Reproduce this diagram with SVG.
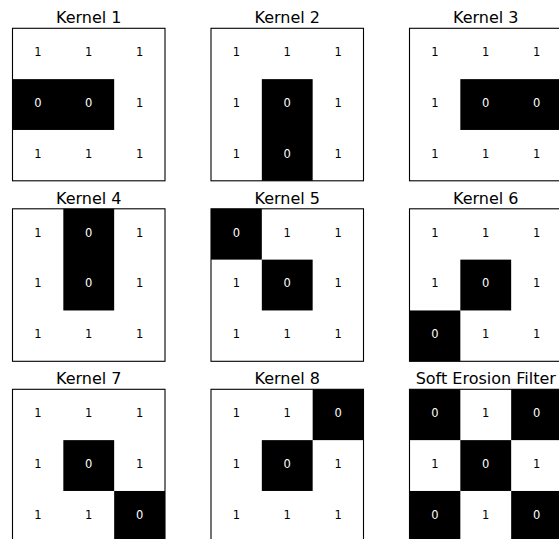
<svg xmlns="http://www.w3.org/2000/svg" width="559" height="539" viewBox="0 0 559 539">
<style>
.z{fill:#000}
.frame{fill:none;stroke:#000;stroke-width:1.1}
.t{font-family:"DejaVu Sans",sans-serif;font-size:16px;fill:#000;text-anchor:middle}
.n{font-family:"DejaVu Sans",sans-serif;font-size:11.5px;text-anchor:middle}
.w{fill:#fff}
.b{fill:#000}
</style>
<rect width="559" height="539" fill="#fff"/>

<!-- Kernel 1 -->
<g id="kernel1" transform="translate(12.5,28.3)">
<text class="t" x="76.25" y="-5">Kernel 1</text>
<rect class="z" x="0" y="50.83" width="101.67" height="50.83"/>
<text class="n b" x="25.4" y="27.8">1</text><text class="n b" x="76.25" y="27.8">1</text><text class="n b" x="127.1" y="27.8">1</text>
<text class="n w" x="25.4" y="78.6">0</text><text class="n w" x="76.25" y="78.6">0</text><text class="n b" x="127.1" y="78.6">1</text>
<text class="n b" x="25.4" y="129.4">1</text><text class="n b" x="76.25" y="129.4">1</text><text class="n b" x="127.1" y="129.4">1</text>
<rect class="frame" x="0" y="0" width="152.5" height="152.5"/>
</g>

<!-- Kernel 2 -->
<g id="kernel2" transform="translate(211,28.3)">
<text class="t" x="76.25" y="-5">Kernel 2</text>
<rect class="z" x="50.83" y="50.83" width="50.83" height="101.67"/>
<text class="n b" x="25.4" y="27.8">1</text><text class="n b" x="76.25" y="27.8">1</text><text class="n b" x="127.1" y="27.8">1</text>
<text class="n b" x="25.4" y="78.6">1</text><text class="n w" x="76.25" y="78.6">0</text><text class="n b" x="127.1" y="78.6">1</text>
<text class="n b" x="25.4" y="129.4">1</text><text class="n w" x="76.25" y="129.4">0</text><text class="n b" x="127.1" y="129.4">1</text>
<rect class="frame" x="0" y="0" width="152.5" height="152.5"/>
</g>

<!-- Kernel 3 -->
<g id="kernel3" transform="translate(409.5,28.3)">
<text class="t" x="76.25" y="-5">Kernel 3</text>
<rect class="z" x="50.83" y="50.83" width="101.67" height="50.83"/>
<text class="n b" x="25.4" y="27.8">1</text><text class="n b" x="76.25" y="27.8">1</text><text class="n b" x="127.1" y="27.8">1</text>
<text class="n b" x="25.4" y="78.6">1</text><text class="n w" x="76.25" y="78.6">0</text><text class="n w" x="127.1" y="78.6">0</text>
<text class="n b" x="25.4" y="129.4">1</text><text class="n b" x="76.25" y="129.4">1</text><text class="n b" x="127.1" y="129.4">1</text>
<rect class="frame" x="0" y="0" width="152.5" height="152.5"/>
</g>

<!-- Kernel 4 -->
<g id="kernel4" transform="translate(12.5,208.8)">
<text class="t" x="76.25" y="-5">Kernel 4</text>
<rect class="z" x="50.83" y="0" width="50.83" height="101.67"/>
<text class="n b" x="25.4" y="27.8">1</text><text class="n w" x="76.25" y="27.8">0</text><text class="n b" x="127.1" y="27.8">1</text>
<text class="n b" x="25.4" y="78.6">1</text><text class="n w" x="76.25" y="78.6">0</text><text class="n b" x="127.1" y="78.6">1</text>
<text class="n b" x="25.4" y="129.4">1</text><text class="n b" x="76.25" y="129.4">1</text><text class="n b" x="127.1" y="129.4">1</text>
<rect class="frame" x="0" y="0" width="152.5" height="152.5"/>
</g>

<!-- Kernel 5 -->
<g id="kernel5" transform="translate(211,208.8)">
<text class="t" x="76.25" y="-5">Kernel 5</text>
<rect class="z" x="0" y="0" width="50.83" height="50.83"/>
<rect class="z" x="50.83" y="50.83" width="50.83" height="50.83"/>
<text class="n w" x="25.4" y="27.8">0</text><text class="n b" x="76.25" y="27.8">1</text><text class="n b" x="127.1" y="27.8">1</text>
<text class="n b" x="25.4" y="78.6">1</text><text class="n w" x="76.25" y="78.6">0</text><text class="n b" x="127.1" y="78.6">1</text>
<text class="n b" x="25.4" y="129.4">1</text><text class="n b" x="76.25" y="129.4">1</text><text class="n b" x="127.1" y="129.4">1</text>
<rect class="frame" x="0" y="0" width="152.5" height="152.5"/>
</g>

<!-- Kernel 6 -->
<g id="kernel6" transform="translate(409.5,208.8)">
<text class="t" x="76.25" y="-5">Kernel 6</text>
<rect class="z" x="50.83" y="50.83" width="50.83" height="50.83"/>
<rect class="z" x="0" y="101.67" width="50.83" height="50.83"/>
<text class="n b" x="25.4" y="27.8">1</text><text class="n b" x="76.25" y="27.8">1</text><text class="n b" x="127.1" y="27.8">1</text>
<text class="n b" x="25.4" y="78.6">1</text><text class="n w" x="76.25" y="78.6">0</text><text class="n b" x="127.1" y="78.6">1</text>
<text class="n w" x="25.4" y="129.4">0</text><text class="n b" x="76.25" y="129.4">1</text><text class="n b" x="127.1" y="129.4">1</text>
<rect class="frame" x="0" y="0" width="152.5" height="152.5"/>
</g>

<!-- Kernel 7 -->
<g id="kernel7" transform="translate(12.5,389.3)">
<text class="t" x="76.25" y="-5">Kernel 7</text>
<rect class="z" x="50.83" y="50.83" width="50.83" height="50.83"/>
<rect class="z" x="101.67" y="101.67" width="50.83" height="50.83"/>
<text class="n b" x="25.4" y="27.8">1</text><text class="n b" x="76.25" y="27.8">1</text><text class="n b" x="127.1" y="27.8">1</text>
<text class="n b" x="25.4" y="78.6">1</text><text class="n w" x="76.25" y="78.6">0</text><text class="n b" x="127.1" y="78.6">1</text>
<text class="n b" x="25.4" y="129.4">1</text><text class="n b" x="76.25" y="129.4">1</text><text class="n w" x="127.1" y="129.4">0</text>
<rect class="frame" x="0" y="0" width="152.5" height="152.5"/>
</g>

<!-- Kernel 8 -->
<g id="kernel8" transform="translate(211,389.3)">
<text class="t" x="76.25" y="-5">Kernel 8</text>
<rect class="z" x="101.67" y="0" width="50.83" height="50.83"/>
<rect class="z" x="50.83" y="50.83" width="50.83" height="50.83"/>
<text class="n b" x="25.4" y="27.8">1</text><text class="n b" x="76.25" y="27.8">1</text><text class="n w" x="127.1" y="27.8">0</text>
<text class="n b" x="25.4" y="78.6">1</text><text class="n w" x="76.25" y="78.6">0</text><text class="n b" x="127.1" y="78.6">1</text>
<text class="n b" x="25.4" y="129.4">1</text><text class="n b" x="76.25" y="129.4">1</text><text class="n b" x="127.1" y="129.4">1</text>
<rect class="frame" x="0" y="0" width="152.5" height="152.5"/>
</g>

<!-- Soft Erosion Filter -->
<g id="soft-erosion-filter" transform="translate(409.5,389.3)">
<text class="t" x="76.25" y="-5">Soft Erosion Filter</text>
<rect class="z" x="0" y="0" width="50.83" height="50.83"/>
<rect class="z" x="101.67" y="0" width="50.83" height="50.83"/>
<rect class="z" x="50.83" y="50.83" width="50.83" height="50.83"/>
<rect class="z" x="0" y="101.67" width="50.83" height="50.83"/>
<rect class="z" x="101.67" y="101.67" width="50.83" height="50.83"/>
<text class="n w" x="25.4" y="27.8">0</text><text class="n b" x="76.25" y="27.8">1</text><text class="n w" x="127.1" y="27.8">0</text>
<text class="n b" x="25.4" y="78.6">1</text><text class="n w" x="76.25" y="78.6">0</text><text class="n b" x="127.1" y="78.6">1</text>
<text class="n w" x="25.4" y="129.4">0</text><text class="n b" x="76.25" y="129.4">1</text><text class="n w" x="127.1" y="129.4">0</text>
<rect class="frame" x="0" y="0" width="152.5" height="152.5"/>
</g>

<g id="connectors"/>
</svg>
